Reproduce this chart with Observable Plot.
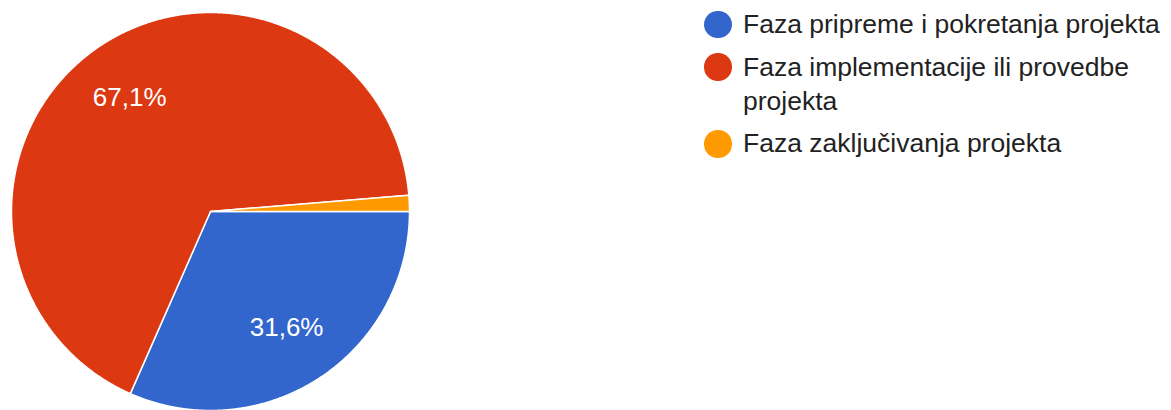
<!DOCTYPE html>
<html>
<head>
<meta charset="utf-8">
<script src="https://cdn.jsdelivr.net/npm/d3@7"></script>
<script src="https://cdn.jsdelivr.net/npm/@observablehq/plot@0.6"></script>
<style>
  html, body { margin: 0; padding: 0; background: #fff; }
  #wrap { position: relative; width: 1171px; height: 410px; overflow: hidden; }
  #legend { position: absolute; left: 704px; top: 7.1px; font-family: "Liberation Sans", Arial, sans-serif; font-size: 26.5px; line-height: 34px; color: #222; }
  .row { display: flex; align-items: flex-start; }
  .sw { width: 27.5px; height: 27.5px; border-radius: 50%; margin-top: 3.6px; margin-right: 11.5px; flex: none; }
  .lbl { width: 428px; }
</style>
</head>
<body>
<div id="wrap"><div id="chart"></div><div id="legend"></div></div>
<script>
const categories = ["Faza pripreme i pokretanja projekta", "Faza implementacije ili provedbe projekta", "Faza zaključivanja projekta"];
const values = [31.6, 67.1, 1.3];
const valueLabels = ["31,6%", "67,1%", ""];
const colors = ["#3366cc", "#dc3912", "#ff9900"];

const R = 199;           // pie radius in scale units (pixels)
const startAngle = 90;   // first slice starts at 3 o'clock, clockwise
const total = d3.sum(values);

const slicePoints = [];
const labelData = [];
let acc = startAngle;
categories.forEach((c, i) => {
  const a0 = acc, a1 = acc + values[i] / total * 360;
  acc = a1;
  slicePoints.push({key: c, x: 0, y: 0});
  const n = Math.max(2, Math.ceil((a1 - a0) / 0.25));
  for (let k = 0; k <= n; k++) {
    const a = (a0 + (a1 - a0) * k / n) * Math.PI / 180;
    slicePoints.push({key: c, x: R * Math.sin(a), y: -R * Math.cos(a)});
  }
  slicePoints.push({key: c, x: 0, y: 0});
  const am = (a0 + a1) / 2 * Math.PI / 180;
  if (valueLabels[i]) labelData.push({text: valueLabels[i], x: 0.7 * R * Math.sin(am), y: -0.7 * R * Math.cos(am)});
});

const chart = Plot.plot({
  width: 1171,
  height: 410,
  margin: 0,
  x: {domain: [-210, 961], range: [0, 1171], axis: null},
  y: {domain: [-211, 199], range: [0, 410], axis: null},
  color: {type: "ordinal", domain: categories, range: colors},
  style: {fontFamily: "'Liberation Sans', Arial, sans-serif", background: "white"},
  marks: [
    Plot.line(slicePoints, {x: "x", y: "y", z: "key", fill: "key", stroke: "white", strokeWidth: 1.5, strokeLinejoin: "round", curve: "linear"}),
    Plot.text(labelData, {x: "x", y: "y", text: "text", fill: "white", fontSize: 26})
  ]
});
document.getElementById("chart").appendChild(chart);

const legend = document.getElementById("legend");
const rowGap = 8.7;
categories.forEach((c, i) => {
  const row = document.createElement("div");
  row.className = "row";
  row.style.marginTop = (i === 0 ? 0 : rowGap) + "px";
  const sw = document.createElement("div");
  sw.className = "sw";
  sw.style.background = colors[i];
  const t = document.createElement("div");
  t.className = "lbl";
  t.textContent = c;
  row.appendChild(sw); row.appendChild(t);
  legend.appendChild(row);
});
</script>
</body>
</html>
